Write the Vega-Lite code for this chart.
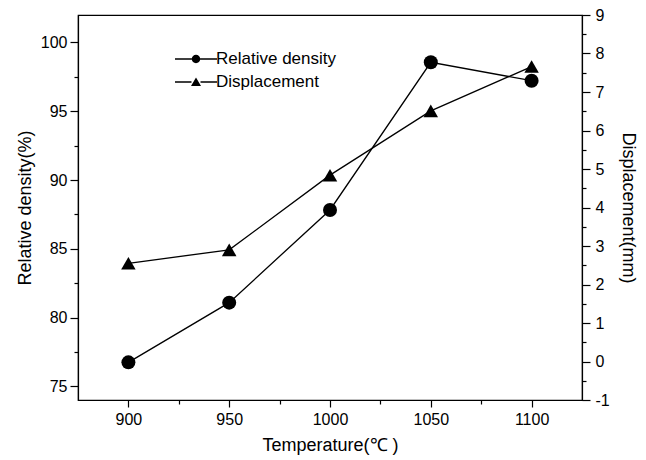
{
  "$schema": "https://vega.github.io/schema/vega-lite/v6.json",
  "autosize": {"type": "none"},
  "padding": {"left": 78, "top": 15, "right": 64, "bottom": 60},
  "width": 504,
  "height": 385,
  "background": "white",
  "config": {
    "font": "Liberation Sans",
    "view": {"stroke": "black", "strokeWidth": 1.2},
    "axis": {
      "grid": false,
      "domainColor": "black",
      "domainWidth": 1.2,
      "tickColor": "black",
      "tickWidth": 1.2,
      "labelColor": "black",
      "titleColor": "black",
      "labelFont": "Liberation Sans",
      "titleFont": "Liberation Sans",
      "labelFontSize": 16,
      "titleFontSize": 18,
      "titleFontWeight": "normal",
      "labelFlush": false,
      "labelOverlap": false
    },
    "legend": {
      "labelFont": "Liberation Sans",
      "labelFontSize": 17,
      "labelColor": "black"
    }
  },
  "data": {
    "values": [
      {"temp": 900, "density": 76.74, "disp": 2.55},
      {"temp": 950, "density": 81.08, "disp": 2.9},
      {"temp": 1000, "density": 87.82, "disp": 4.84},
      {"temp": 1050, "density": 98.56, "disp": 6.51},
      {"temp": 1100, "density": 97.22, "disp": 7.66}
    ]
  },
  "layer": [
    {
      "mark": {"type": "line", "color": "black", "strokeWidth": 1.3},
      "encoding": {
        "x": {"field": "temp", "type": "quantitative", "scale": {"domain": [875, 1125], "nice": false, "zero": false},
          "axis": {"orient": "bottom", "values": [900, 950, 1000, 1050, 1100], "format": "d", "tickSize": 7, "labelPadding": 4, "title": "Temperature(℃ )", "titlePadding": 9}},
        "y": {"field": "density", "type": "quantitative", "scale": {"domain": [74, 102], "nice": false, "zero": false},
          "axis": {"orient": "left", "values": [75, 80, 85, 90, 95, 100], "tickSize": 8, "labelPadding": 3, "title": "Relative density(%)", "titlePadding": 6}}
      }
    },
    {
      "mark": {"type": "point", "shape": "circle", "filled": true, "color": "black", "opacity": 1, "size": 196},
      "encoding": {
        "x": {"field": "temp", "type": "quantitative", "scale": {"domain": [875, 1125], "nice": false, "zero": false}, "axis": null},
        "y": {"field": "density", "type": "quantitative", "scale": {"domain": [74, 102], "nice": false, "zero": false}, "axis": null}
      }
    },
    {
      "mark": {"type": "line", "color": "black", "strokeWidth": 1.3},
      "encoding": {
        "x": {"field": "temp", "type": "quantitative", "scale": {"domain": [875, 1125], "nice": false, "zero": false}, "axis": null},
        "y": {"field": "disp", "type": "quantitative", "scale": {"domain": [-1, 9], "nice": false, "zero": false},
          "axis": {"orient": "right", "values": [-1, 0, 1, 2, 3, 4, 5, 6, 7, 8, 9], "labelExpr": "'' + datum.value", "tickSize": 8, "labelPadding": 5, "title": "Displacement(mm)", "titlePadding": 9}}
      }
    },
    {
      "mark": {"type": "point", "shape": "triangle-up", "filled": true, "color": "black", "opacity": 1, "size": 210},
      "encoding": {
        "x": {"field": "temp", "type": "quantitative", "scale": {"domain": [875, 1125], "nice": false, "zero": false}, "axis": null},
        "y": {"field": "disp", "type": "quantitative", "scale": {"domain": [-1, 9], "nice": false, "zero": false}, "axis": null}
      }
    },
    {
      "mark": {"type": "point", "filled": true, "color": "black", "opacity": 0},
      "encoding": {
        "x": {"field": "temp", "type": "quantitative", "scale": {"domain": [875, 1125], "nice": false, "zero": false},
          "axis": {"orient": "bottom", "values": [925, 975, 1025, 1075], "tickSize": 4, "labels": false, "domain": false, "title": null}},
        "y": {"field": "density", "type": "quantitative", "scale": {"domain": [74, 102], "nice": false, "zero": false},
          "axis": {"orient": "left", "values": [77.5, 82.5, 87.5, 92.5, 97.5], "tickSize": 4, "labels": false, "domain": false, "title": null}},
        "shape": {"datum": "Relative density", "type": "nominal",
          "scale": {"domain": ["Relative density", "Displacement"],
            "range": [
              "M-2.1,-0.08H-0.4V0.08H-2.1ZM0.4,-0.08H2.1V0.08H0.4ZM0.42,0A0.42,0.42,0,1,1,-0.42,0A0.42,0.42,0,1,1,0.42,0Z",
              "M-2.1,-0.08H-0.45V0.08H-2.1ZM0.45,-0.08H2.1V0.08H0.45ZM0,-0.45L0.5,0.4L-0.5,0.4Z"
            ]},
          "legend": {
            "title": null, "orient": "none", "legendX": 108, "legendY": 34,
            "symbolSize": 400, "rowPadding": 5, "labelOffset": 10,
            "symbolOpacity": 1, "symbolFillColor": "black", "symbolStrokeColor": "black", "symbolStrokeWidth": 0
          }}
      }
    },
    {
      "mark": {"type": "point", "filled": true, "color": "black", "opacity": 0},
      "encoding": {
        "x": {"field": "temp", "type": "quantitative", "scale": {"domain": [875, 1125], "nice": false, "zero": false}, "axis": null},
        "y": {"field": "disp", "type": "quantitative", "scale": {"domain": [-1, 9], "nice": false, "zero": false},
          "axis": {"orient": "right", "values": [-0.5, 0.5, 1.5, 2.5, 3.5, 4.5, 5.5, 6.5, 7.5, 8.5], "tickSize": 4, "labels": false, "domain": false, "title": null}},
        "shape": {"datum": "Displacement", "type": "nominal"}
      }
    }
  ],
  "resolve": {
    "scale": {"x": "independent", "y": "independent"},
    "axis": {"x": "independent", "y": "independent"}
  }
}
